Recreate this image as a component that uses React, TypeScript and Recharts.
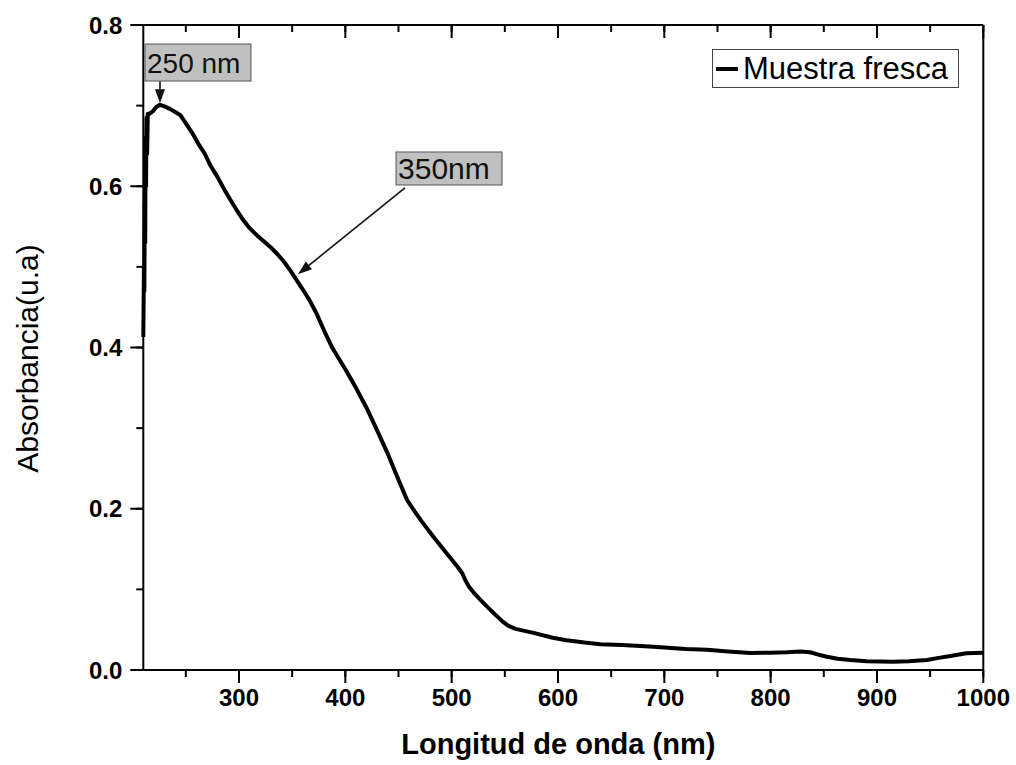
import React from 'react';
import { LineChart, Line, XAxis, YAxis, ReferenceLine, ReferenceDot } from 'recharts';

// UV-Vis absorption spectrum of the fresh sample
const wavelengthNm = [
  210, 210.6, 211, 211.4, 211.8, 212.2, 212.6, 213, 213.6, 214.2, 216, 219, 222, 225.7, 230, 235, 240,
  245, 251, 257, 263, 268, 273, 280, 287, 292, 298, 304, 310, 317, 323, 330, 336, 342, 348, 354, 361,
  367, 373, 380, 388, 394, 400, 410, 420, 430, 440, 450, 458, 465, 472, 483, 495, 505, 510, 513, 516,
  522, 530, 540, 548, 553, 560, 577, 595, 608, 625, 640, 660, 686, 700, 720, 740, 760, 781, 800, 815,
  828, 837, 845, 853, 863, 875, 890, 915, 930, 947, 958, 969, 984, 1000,
];
const absorbance = [
  0.413, 0.5, 0.47, 0.58, 0.53, 0.66, 0.6, 0.685, 0.64, 0.69, 0.69, 0.693, 0.698, 0.701, 0.699, 0.696,
  0.692, 0.688, 0.676, 0.664, 0.65, 0.64, 0.626, 0.611, 0.594, 0.583, 0.57, 0.558, 0.548, 0.539, 0.532,
  0.524, 0.516, 0.507, 0.496, 0.484, 0.47, 0.457, 0.442, 0.421, 0.399, 0.386, 0.373, 0.35, 0.325, 0.297,
  0.268, 0.236, 0.211, 0.197, 0.184, 0.165, 0.145, 0.129, 0.12, 0.111, 0.104, 0.094, 0.083, 0.07, 0.06,
  0.055, 0.051, 0.046, 0.04, 0.037, 0.034, 0.032, 0.031, 0.029, 0.028, 0.026, 0.025, 0.023, 0.021,
  0.0215, 0.022, 0.023, 0.022, 0.019, 0.0165, 0.014, 0.0124, 0.011, 0.0103, 0.011, 0.0124, 0.015,
  0.0174, 0.0207, 0.0215,
];

const xDomain = [210, 1000];
const yDomain = [0, 0.8];
const xTicks = [250, 300, 350, 400, 450, 500, 550, 600, 650, 700, 750, 800, 850, 900, 950, 1000];
const yTicks = [0, 0.1, 0.2, 0.3, 0.4, 0.5, 0.6, 0.7, 0.8];
const seriesName = 'Muestra fresca';
const xTitle = 'Longitud de onda (nm)';
const yTitle = 'Absorbancia(u.a)';

// Callout text and where its box / arrow sit, in data units
const calloutText = ['250 nm', '350nm'];
const calloutBoxAt = [
  { nm: 211.6, abs: 0.7764 },
  { nm: 447.7, abs: 0.6425 },
];
const calloutArrowFrom = [
  { nm: 225.7, abs: 0.7305 },
  { nm: 456.1, abs: 0.598 },
];
const calloutArrowTo = [
  { nm: 225.7, abs: 0.703 },
  { nm: 355.5, abs: 0.491 },
];

const data = wavelengthNm.map((nm, i) => ({ nm, abs: absorbance[i] }));

const FONT = "'Liberation Sans', Arial, Helvetica, sans-serif";
const MINOR = 7; // length of the library tick line drawn for every tick
const EXTRA = 6; // major ticks are extended by this much
const AXIS = { stroke: '#000', strokeWidth: 2 };
const TICKLINE = { stroke: '#000', strokeWidth: 2 };

const isMajorX = (v: number) => v % 100 === 0;
const isMajorY = (v: number) => Math.round(v * 10) % 2 === 0;

// Tick renderers receive the outer end of the short library tick line
const BottomTick = (p: any) => {
  const x = Number(p.x);
  const y = Number(p.y);
  const v = p.payload.value;
  if (!isMajorX(v)) return <g />;
  return (
    <g>
      <line x1={x} y1={y - MINOR} x2={x} y2={y + EXTRA} stroke="#000" strokeWidth={2} />
      <text x={x} y={y + 12} dy="0.71em" textAnchor="middle" fontFamily={FONT} fontWeight="bold" fontSize={24} fill="#000">
        {v}
      </text>
    </g>
  );
};

const TopTick = (p: any) => {
  const x = Number(p.x);
  const y = Number(p.y);
  if (!isMajorX(p.payload.value)) return <g />;
  return <line x1={x} y1={y - MINOR} x2={x} y2={y + EXTRA} stroke="#000" strokeWidth={2} />;
};

const LeftTick = (p: any) => {
  const x = Number(p.x);
  const y = Number(p.y);
  const v = p.payload.value;
  if (!isMajorY(v)) return <g />;
  return (
    <g>
      <line x1={x + MINOR} y1={y} x2={x - EXTRA} y2={y} stroke="#000" strokeWidth={2} />
      <text x={x - 14} y={y} dy="0.355em" textAnchor="end" fontFamily={FONT} fontWeight="bold" fontSize={24} fill="#000">
        {Number(v).toFixed(1)}
      </text>
    </g>
  );
};

const RightTick = (p: any) => {
  const x = Number(p.x);
  const y = Number(p.y);
  if (!isMajorY(p.payload.value)) return <g />;
  return <line x1={x + MINOR} y1={y} x2={x - EXTRA} y2={y} stroke="#000" strokeWidth={2} />;
};

const XTitle = (p: any) => {
  const vb = p.viewBox || {};
  return (
    <text x={vb.x + vb.width / 2 - 5} y={vb.y + 84} textAnchor="middle" fontFamily={FONT} fontWeight="bold" fontSize={29} fill="#000">
      {xTitle}
    </text>
  );
};

const YTitle = (p: any) => {
  const vb = p.viewBox || {};
  const cy = vb.y + vb.height / 2 + 11;
  return (
    <text transform={`translate(38,${cy}) rotate(-90)`} textAnchor="middle" fontFamily={FONT} fontSize={30} fill="#000">
      {yTitle}
    </text>
  );
};

const Arrow = (p: any) => {
  const x1 = Number(p.x1);
  const y1 = Number(p.y1);
  const x2 = Number(p.x2);
  const y2 = Number(p.y2);
  const dx = x2 - x1;
  const dy = y2 - y1;
  const len = Math.hypot(dx, dy) || 1;
  const ux = dx / len;
  const uy = dy / len;
  const head = 14;
  const half = 5;
  const bx = x2 - ux * head;
  const by = y2 - uy * head;
  const pts = `${x2},${y2} ${bx - uy * half},${by + ux * half} ${bx + uy * half},${by - ux * half}`;
  return (
    <g>
      <line x1={x1} y1={y1} x2={bx} y2={by} stroke="#111" strokeWidth={1.6} />
      <polygon points={pts} fill="#111" />
    </g>
  );
};

const makeBox = (text: string, w: number, h: number, fs: number) => (p: any) => {
  const cx = Number(p.cx);
  const cy = Number(p.cy);
  return (
    <g>
      <rect x={cx} y={cy} width={w} height={h} fill="#c0c0c0" stroke="#555" strokeWidth={1} />
      <text x={cx + 2} y={cy + h / 2} dy="0.36em" fontFamily={FONT} fontSize={fs} fill="#111">
        {text}
      </text>
    </g>
  );
};

const boxShapes = [makeBox(calloutText[0], 106, 37, 28), makeBox(calloutText[1], 106, 33, 30)];

const SeriesKey = () => (
  <div
    style={{
      position: 'absolute',
      left: 712,
      top: 49,
      boxSizing: 'border-box',
      width: 247,
      height: 39,
      border: '1px solid #444',
      background: '#fff',
      display: 'flex',
      alignItems: 'center',
      paddingLeft: 3,
      fontFamily: FONT,
      fontSize: 31,
      lineHeight: '37px',
      color: '#000',
      whiteSpace: 'nowrap',
    }}
  >
    <svg width={22} height={10} style={{ marginRight: 5 }}>
      <line x1={0} y1={5} x2={22} y2={5} stroke="#000" strokeWidth={4} />
    </svg>
    <span>{seriesName}</span>
  </div>
);

export default function App() {
  return (
    <div style={{ position: 'absolute', left: 0, top: 0, width: 1016, height: 765, overflow: 'hidden', background: '#fff' }}>
      <LineChart width={1016} height={765} data={data} margin={{ top: 25, right: 32.7, bottom: 0, left: 0 }}>
        <XAxis
          xAxisId="b"
          dataKey="nm"
          type="number"
          domain={xDomain}
          ticks={xTicks}
          interval={0}
          height={95}
          tickSize={MINOR}
          tickMargin={0}
          tickLine={TICKLINE}
          axisLine={AXIS}
          tick={BottomTick}
          label={<XTitle />}
        />
        <XAxis
          xAxisId="t"
          orientation="top"
          mirror
          dataKey="nm"
          type="number"
          domain={xDomain}
          ticks={xTicks}
          interval={0}
          height={1}
          tickSize={MINOR}
          tickMargin={0}
          tickLine={TICKLINE}
          axisLine={AXIS}
          tick={TopTick}
        />
        <YAxis
          yAxisId="l"
          type="number"
          domain={yDomain}
          ticks={yTicks}
          interval={0}
          width={143.3}
          tickSize={MINOR}
          tickMargin={0}
          tickLine={TICKLINE}
          axisLine={AXIS}
          tick={LeftTick}
          label={<YTitle />}
        />
        <YAxis
          yAxisId="r"
          orientation="right"
          mirror
          type="number"
          domain={yDomain}
          ticks={yTicks}
          interval={0}
          width={1}
          tickSize={MINOR}
          tickMargin={0}
          tickLine={TICKLINE}
          axisLine={AXIS}
          tick={RightTick}
        />
        <Line
          xAxisId="b"
          yAxisId="l"
          type="linear"
          dataKey="abs"
          name={seriesName}
          stroke="#000"
          strokeWidth={4}
          strokeLinejoin="round"
          dot={false}
          activeDot={false}
          isAnimationActive={false}
        />
        {calloutText.map((t, i) => (
          <ReferenceLine
            key={`arrow-${t}`}
            xAxisId="b"
            yAxisId="l"
            segment={[
              { x: calloutArrowFrom[i].nm, y: calloutArrowFrom[i].abs },
              { x: calloutArrowTo[i].nm, y: calloutArrowTo[i].abs },
            ]}
            ifOverflow="visible"
            shape={Arrow}
          />
        ))}
        {calloutText.map((t, i) => (
          <ReferenceDot
            key={`box-${t}`}
            xAxisId="b"
            yAxisId="l"
            x={calloutBoxAt[i].nm}
            y={calloutBoxAt[i].abs}
            ifOverflow="visible"
            shape={boxShapes[i]}
          />
        ))}
      </LineChart>
      <SeriesKey />
    </div>
  );
}
